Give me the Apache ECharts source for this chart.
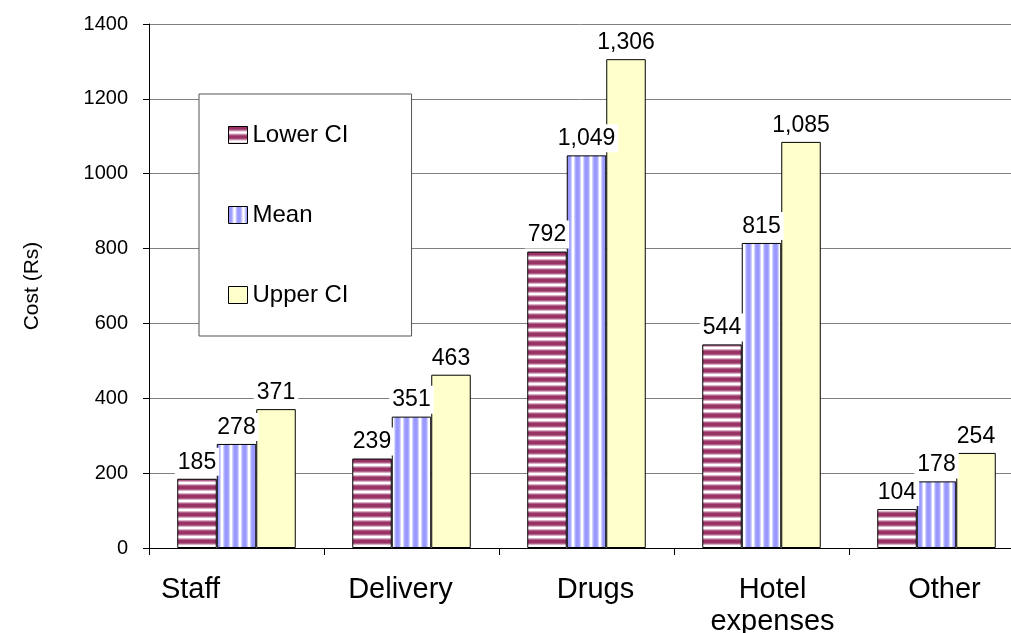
<!DOCTYPE html>
<html>
<head>
<meta charset="utf-8">
<script src="https://cdn.jsdelivr.net/npm/echarts@6/dist/echarts.min.js"></script>
<style>
  html, body { margin: 0; padding: 0; background: #fff; }
  #chart { width: 1011px; height: 633px; }
</style>
</head>
<body>
<div id="chart"></div>
<script>
// Cost components with lower/upper confidence limits
const categories = ['Staff', 'Delivery', 'Drugs', 'Hotel\nexpenses', 'Other'];
const lowerCI = [185, 239, 792, 544, 104];
const meanCost = [278, 351, 1049, 815, 178];
const upperCI = [371, 463, 1306, 1085, 254];
const yTicks = { min: 0, max: 1400, interval: 200 };

const FONT = '"Liberation Sans", Arial, sans-serif';

// Build a repeating stripe fill (one period of pixel colours)
function stripes(horizontal, cols) {
  const n = cols.length;
  const c = document.createElement('canvas');
  c.width = horizontal ? 1 : n;
  c.height = horizontal ? n : 1;
  const ctx = c.getContext('2d');
  cols.forEach((col, i) => {
    ctx.fillStyle = col;
    if (horizontal) ctx.fillRect(0, i, 1, 1); else ctx.fillRect(i, 0, 1, 1);
  });
  return { image: c, repeat: 'repeat' };
}

const maroonStripes = stripes(true, ['#993366', '#993366', '#993366', '#b0628a', '#dbb0c6', '#ffffff', '#ffffff', '#dbb0c6', '#b0628a']);
const blueStripes = stripes(false, ['#9999ff', '#9999ff', '#9999ff', '#adadff', '#d2d2ff', '#ffffff', '#ffffff', '#d2d2ff', '#adadff']);

const label = {
  show: true,
  position: 'top',
  distance: 3,
  fontFamily: FONT,
  fontSize: 23,
  color: '#000',
  backgroundColor: '#fff',
  padding: [3, 3, 2, 3],
  formatter: p => p.value.toLocaleString('en-US')
};

function bar(name, data, color) {
  return {
    name, type: 'bar', data,
    barWidth: 39.5, barGap: '0%',
    itemStyle: { color, borderColor: '#000', borderWidth: 1 },
    label,
    emphasis: { disabled: true }
  };
}

// Horizontal nudges of the category captions (px, negative = left)
const captionShift = [-46, -11, 9, 11, 8];
const captionRich = {};
captionShift.forEach((s, i) => {
  captionRich['c' + i] = {
    fontFamily: FONT, fontSize: 29, color: '#000', lineHeight: 32,
    padding: s < 0 ? [0, -2 * s, 0, 0] : [0, 0, 0, 2 * s]
  };
});

const chart = echarts.init(document.getElementById('chart'));
chart.setOption({
  animation: false,
  backgroundColor: '#fff',
  grid: { left: 149, top: 24, bottom: 85, width: 875, containLabel: false, outerBoundsMode: 'none' },
  legend: {
    orient: 'vertical',
    left: 199, top: 94,
    padding: [29, 63, 29, 29],
    itemGap: 56,
    itemWidth: 19, itemHeight: 17,
    icon: 'rect',
    backgroundColor: '#fff',
    borderColor: '#555',
    borderWidth: 1,
    itemStyle: { borderColor: '#000', borderWidth: 1 },
    textStyle: { fontFamily: FONT, fontSize: 24, color: '#000' },
    selectedMode: false
  },
  xAxis: {
    type: 'category',
    data: categories,
    axisLine: { lineStyle: { color: '#000', width: 1 } },
    axisTick: { show: true, length: 7, interval: 0, lineStyle: { color: '#000' } },
    axisLabel: {
      fontFamily: FONT, fontSize: 29, color: '#000', margin: 26, lineHeight: 32, interval: 0,
      hideOverlap: false,
      formatter: (v, i) => v.split('\n').map(l => '{c' + i + '|' + l + '}').join('\n'),
      rich: captionRich
    }
  },
  yAxis: {
    type: 'value',
    min: yTicks.min, max: yTicks.max, interval: yTicks.interval,
    name: 'Cost (Rs)',
    nameLocation: 'middle',
    nameGap: 106,
    nameRotate: 90,
    nameTextStyle: { fontFamily: FONT, fontSize: 21, color: '#000' },
    axisLine: { show: true, lineStyle: { color: '#000', width: 1 } },
    axisTick: { show: true, length: 6, lineStyle: { color: '#000' } },
    axisLabel: { fontFamily: FONT, fontSize: 20, color: '#000', margin: 21, formatter: v => String(v) },
    splitLine: { lineStyle: { color: '#808080', width: 1 } }
  },
  series: [
    bar('Lower CI', lowerCI, maroonStripes),
    bar('Mean', meanCost, blueStripes),
    bar('Upper CI', upperCI, '#ffffcc')
  ]
});
</script>
</body>
</html>
